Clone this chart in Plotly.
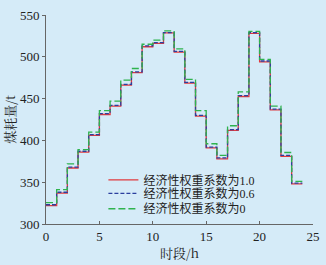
import plotly.graph_objects as go

hours = list(range(25))
w10 = [322, 337, 367, 386, 406, 431, 441, 466, 481, 512, 516, 528.5, 505.5, 468.5, 429,
       391, 378, 412, 452.5, 528, 494, 436.5, 381, 348]
w06 = [323, 338, 368, 387, 407, 432, 442, 467, 482, 513, 517, 529, 506.5, 469.5, 430,
       392, 379, 413, 453.5, 529, 495, 437.5, 382, 349]
w00 = [325.5, 341, 372, 389, 410, 435.5, 447, 472, 486, 515, 520, 531, 509.5, 473, 435.5,
       396, 382, 417.5, 458, 530.5, 497, 441, 385.5, 351]
names = ["经济性权重系数为1.0", "经济性权重系数为0.6", "经济性权重系数为0"]

fig = go.Figure()
for ys, name, color, dash, lg in [
    (w10, names[0], "#e03a3e", "solid", "legend"),
    (w06, names[1], "#2b3f9e", "4px,2px", "legend2"),
    (w00, names[2], "#2fb34e", "7px,3px", "legend3"),
]:
    fig.add_trace(go.Scatter(
        x=hours, y=ys + [ys[-1]], mode="lines", name=name, legend=lg,
        line=dict(color=color, width=1.3, dash=dash, shape="hv"),
    ))

serif = "Liberation Serif"
axis_font = dict(family=serif, size=13, color="#222")
cjk = "Noto Serif CJK SC, Noto Sans CJK SC"
leg_common = dict(x=0.215, xanchor="left", yanchor="middle", bgcolor="rgba(0,0,0,0)",
                  font=dict(family="Liberation Serif, Noto Sans CJK SC", size=12, color="#222"),
                  itemwidth=30)
fig.update_layout(
    width=326, height=265,
    margin=dict(l=46, r=13, t=15, b=41),
    paper_bgcolor="#d5ebf8", plot_bgcolor="#d5ebf8",
    font=dict(family=serif, color="#222"),
    showlegend=True,
    legend=dict(y=0.211, **leg_common),
    legend2=dict(y=0.147, **leg_common),
    legend3=dict(y=0.073, **leg_common),
    xaxis=dict(range=[0, 25], tickvals=[0, 5, 10, 15, 20, 25], showgrid=False, zeroline=False,
               showline=True, linecolor="#666", linewidth=1, ticks="inside", ticklen=3,
               tickcolor="#666", tickfont=axis_font, automargin=False,
               title=dict(text="时段/h", font=dict(family=cjk, size=13, color="#222"),
                          standoff=6)),
    yaxis=dict(range=[300, 550], tickvals=[300, 350, 400, 450, 500, 550], showgrid=False, zeroline=False,
               showline=True, linecolor="#666", linewidth=1, ticks="outside", ticklen=3,
               tickcolor="#666", tickfont=axis_font, automargin=False,
               title=dict(text="煤耗量/t", font=dict(family=cjk, size=13, color="#222"),
                          standoff=4)),
)
fig.write_html("out.html", config={"displayModeBar": False},
               post_script="document.body.style.margin='0';document.body.style.background='#d5ebf8';")
